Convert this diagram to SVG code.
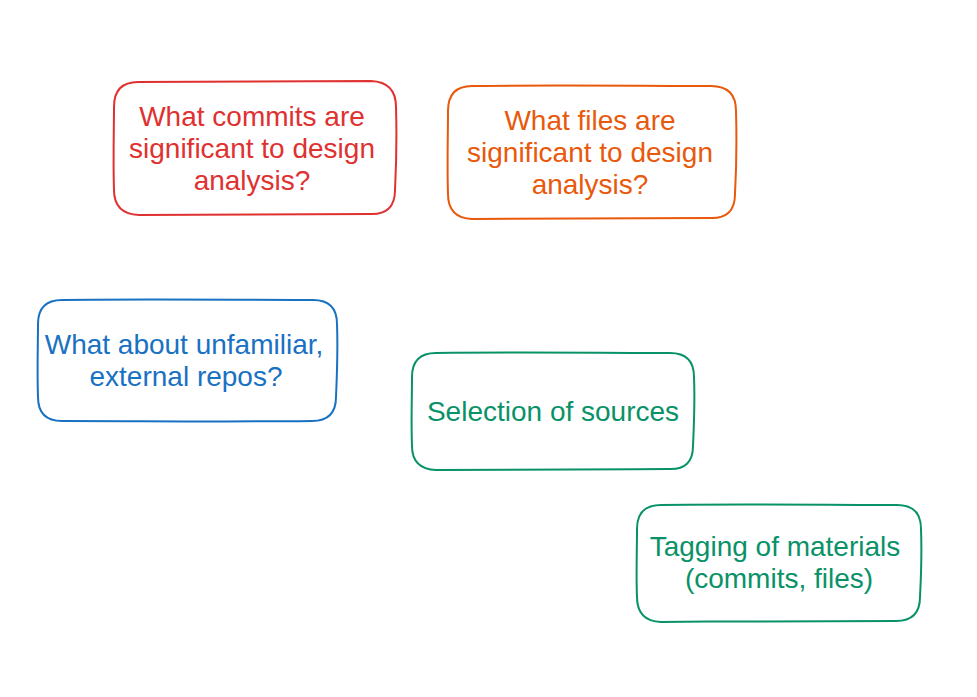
<svg xmlns="http://www.w3.org/2000/svg" width="977" height="697" viewBox="0 0 977 697">
  <style>
    .box { fill: #ffffff; stroke-width: 2; stroke-linejoin: round; stroke-linecap: round; }
    .label { font-family: "Liberation Sans", Arial, sans-serif; font-size: 28px; text-anchor: middle; }
    .red { stroke: #e03131; } .red-t { fill: #e03131; }
    .orange { stroke: #e8590c; } .orange-t { fill: #e8590c; }
    .blue { stroke: #1971c2; } .blue-t { fill: #1971c2; }
    .green { stroke: #099268; } .green-t { fill: #099268; }
  </style>
  <rect width="977" height="697" fill="#ffffff"/>

  <!-- hand-drawn rounded boxes -->
  <g id="commits-question">
    <path class="box red" d="M138 82 C220 81 300 82 371 81 Q396 82 396 107 C397 140 396 170 395 190 Q395 215 370 214 C290 215 210 214 139 215 Q114 214 114 190 C113 160 114 130 114 107 Q114 82 138 82 Z"/>
    <text class="label red-t" x="252" y="126">What commits are</text>
    <text class="label red-t" x="252" y="158">significant to design</text>
    <text class="label red-t" x="252" y="190">analysis?</text>
  </g>

  <g id="files-question">
    <path class="box orange" d="M472 86 C560 85 640 86 711 86 Q736 86 736 111 C737 145 736 175 735 194 Q735 219 710 218 C630 219 550 218 472 219 Q448 218 448 194 C447 165 448 135 448 111 Q448 86 472 86 Z"/>
    <text class="label orange-t" x="590" y="130">What files are</text>
    <text class="label orange-t" x="590" y="162">significant to design</text>
    <text class="label orange-t" x="590" y="194">analysis?</text>
  </g>

  <g id="external-repos-question">
    <path class="box blue" d="M62 300 C150 299 240 300 313 300 Q337 300 337 324 C338 350 337 375 336 397 Q336 421 312 421 C230 422 140 421 62 421 Q38 421 38 397 C37 370 38 345 38 324 Q38 300 62 300 Z"/>
    <text class="label blue-t" x="184" y="354">What about unfamiliar,</text>
    <text class="label blue-t" x="186" y="386">external repos?</text>
  </g>

  <g id="selection-of-sources">
    <path class="box green" d="M436 353 C520 352 600 353 670 353 Q694 353 694 377 C695 400 694 425 693 446 Q693 470 669 469 C590 470 510 469 436 470 Q412 469 412 446 C411 420 412 398 412 377 Q412 353 436 353 Z"/>
    <text class="label green-t" x="553" y="421">Selection of sources</text>
  </g>

  <g id="tagging-of-materials">
    <path class="box green" d="M661 505 C740 504 830 505 897 505 Q921 505 921 529 C922 555 921 578 920 597 Q920 621 896 621 C820 622 740 621 661 622 Q637 621 637 597 C636 575 637 550 637 529 Q637 505 661 505 Z"/>
    <text class="label green-t" x="775" y="556">Tagging of materials</text>
    <text class="label green-t" x="779" y="588">(commits, files)</text>
  </g>

  <g id="connectors"/>
</svg>
